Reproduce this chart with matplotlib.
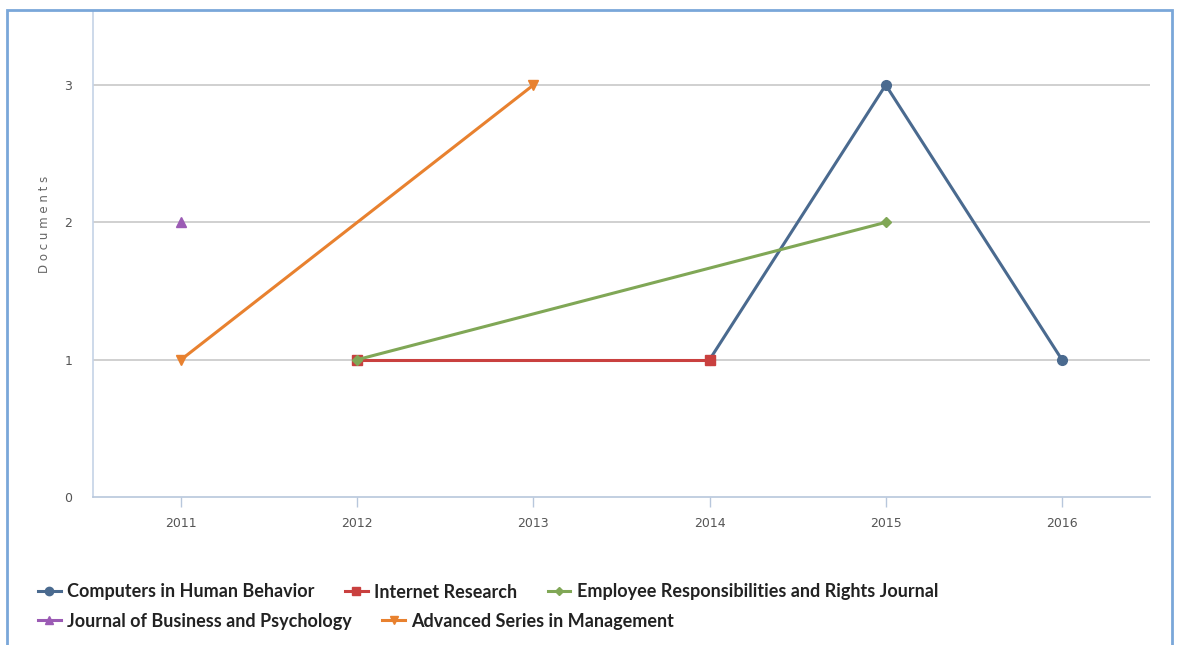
import matplotlib
matplotlib.use("Agg")
import matplotlib.pyplot as plt
from matplotlib.lines import Line2D
from matplotlib.patches import Rectangle

years = [2011, 2012, 2013, 2014, 2015, 2016]

series_names = [
    "Computers in Human Behavior",
    "Internet Research",
    "Employee Responsibilities and Rights Journal",
    "Journal of Business and Psychology",
    "Advanced Series in Management",
]
chb_years = [2014, 2015, 2016]
chb_docs = [1, 3, 1]
ir_years = [2012, 2014]
ir_docs = [1, 1]
errj_years = [2012, 2015]
errj_docs = [1, 2]
jbp_years = [2011]
jbp_docs = [2]
asm_years = [2011, 2013]
asm_docs = [1, 3]

colors = ["#4a6a8f", "#c9403f", "#80a756", "#9b5bb4", "#e8812f"]
markers = ["o", "s", "D", "^", "v"]
sizes = [7, 7, 5, 7, 7]

fig = plt.figure(figsize=(11.77, 6.45), dpi=100)
W, H = 1177, 645

# outer frame of the chart panel
fig.patches.append(Rectangle((7 / W, -0.01), (1172 - 7) / W, (645 - 10) / H + 0.01,
                             transform=fig.transFigure, fill=False,
                             edgecolor="#7aa7d9", linewidth=2, zorder=0))

ax = fig.add_axes([93 / W, (645 - 497) / H, (1150 - 93) / W, (497 - 11) / H])
ax.set_xlim(2010.5, 2016.5)
y0, y3 = 497, 85
per = (y0 - y3) / 3
ax.set_ylim(0, 3 + (y3 - 11) / per)

data = [(chb_years, chb_docs), (ir_years, ir_docs), (errj_years, errj_docs),
        (jbp_years, jbp_docs), (asm_years, asm_docs)]
handles = []
for (xs, ys), c, m, s, name in zip(data, colors, markers, sizes, series_names):
    ax.plot(xs, ys, color=c, linewidth=2.2, marker=m, markersize=s, zorder=3,
            clip_on=False)
    handles.append(Line2D([], [], color=c, linewidth=2.2, marker=m,
                          markersize=s - 1, label=name))

for v in [1, 2, 3]:
    ax.axhline(v, color="#c8c8c8", linewidth=1.2, zorder=1)

for side in ["top", "right"]:
    ax.spines[side].set_visible(False)
ax.spines["left"].set_color("#c5d3e6")
ax.spines["bottom"].set_color("#b8c7dc")
ax.spines["left"].set_linewidth(1.2)
ax.spines["bottom"].set_linewidth(1.2)

ax.set_xticks(years)
ax.set_xticklabels([str(y) for y in years])
ax.set_yticks([0, 1, 2, 3])
ax.tick_params(axis="x", length=7.5, width=1, color="#b8c7dc",
               labelsize=9, pad=7)
ax.tick_params(axis="y", length=0, labelsize=9, pad=15)
for t in ax.get_xticklabels() + ax.get_yticklabels():
    t.set_color("#555555")

fig.text(45 / W, (645 - 224) / H, "D o c u m e n t s", rotation=90,
         ha="center", va="center", fontsize=8.5, color="#666666")

legend_font = {"family": "Lato", "weight": "bold", "size": 13}
leg_kw = dict(frameon=False, prop=legend_font, handlelength=1.25,
              handletextpad=0.35, columnspacing=1.7, borderpad=0,
              borderaxespad=0)
fig.legend(handles=handles[:3], loc="center left",
           bbox_to_anchor=(38 / W, (645 - 592) / H), ncol=3, **leg_kw)
fig.legend(handles=handles[3:], loc="center left",
           bbox_to_anchor=(38 / W, (645 - 621) / H), ncol=2, **leg_kw)
for leg in fig.legends:
    for t in leg.get_texts():
        t.set_color("#222222")

fig.savefig("out.png", dpi=100, facecolor="white")
